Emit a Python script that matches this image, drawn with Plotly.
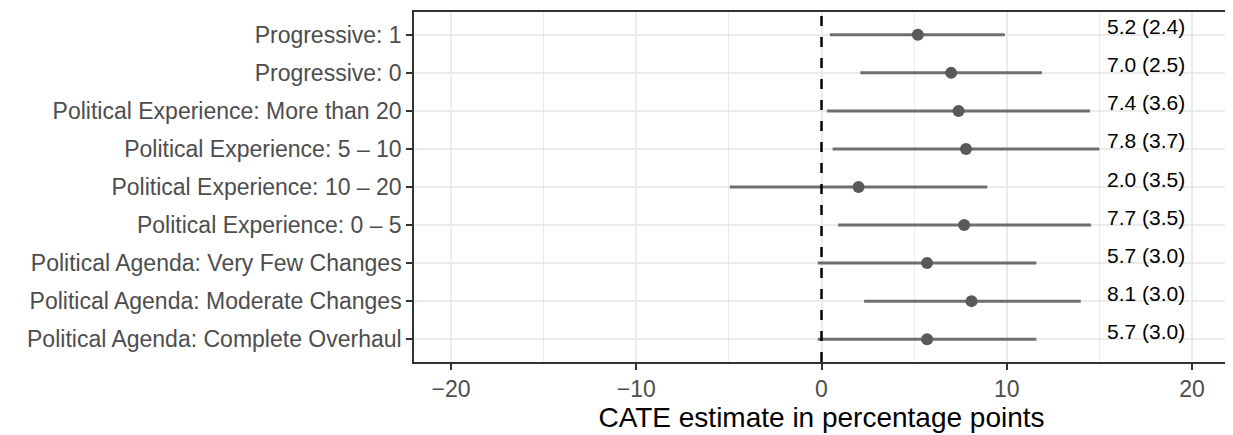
import plotly.graph_objects as go

# CATE estimates by attribute level (top to bottom as in the figure)
levels = [
    "Progressive: 1",
    "Progressive: 0",
    "Political Experience: More than 20",
    "Political Experience: 5 \u2013 10",
    "Political Experience: 10 \u2013 20",
    "Political Experience: 0 \u2013 5",
    "Political Agenda: Very Few Changes",
    "Political Agenda: Moderate Changes",
    "Political Agenda: Complete Overhaul",
]
estimate = [5.2, 7.0, 7.4, 7.8, 2.0, 7.7, 5.7, 8.1, 5.7]
std_err = [2.4, 2.5, 3.6, 3.7, 3.5, 3.5, 3.0, 3.0, 3.0]
ci_low = [0.45, 2.1, 0.3, 0.6, -4.95, 0.9, -0.2, 2.3, -0.2]
ci_high = [9.9, 11.9, 14.5, 15.0, 8.95, 14.55, 11.6, 14.0, 11.6]
labels = [f"{e:.1f} ({s:.1f})" for e, s in zip(estimate, std_err)]

FONT = "Liberation Sans, Arial, sans-serif"

fig = go.Figure()
fig.add_trace(go.Scatter(
    x=estimate, y=levels, mode="markers",
    marker=dict(size=12, color="#595959"),
    error_x=dict(type="data", symmetric=False,
                 array=[h - e for h, e in zip(ci_high, estimate)],
                 arrayminus=[e - l for e, l in zip(estimate, ci_low)],
                 width=0, thickness=3, color="#6e6e6e"),
    showlegend=False, hoverinfo="skip",
))

for lab, lvl in zip(labels, levels):
    fig.add_annotation(x=17.5, y=lvl, text=lab, showarrow=False,
                       xanchor="center", yanchor="middle", yshift=8,
                       font=dict(family=FONT, size=21, color="black"))

# dashed reference line at zero (above, so the x=0 gridline doesn't cover it)
fig.add_shape(type="line", x0=0, x1=0, y0=0, y1=1, xref="x", yref="paper",
              line=dict(color="black", width=2.5, dash="10px,11px"), layer="above")

axis_common = dict(showline=True, mirror=True, linecolor="#333333", linewidth=1.5,
                   ticks="outside", ticklen=6, tickwidth=1.5, tickcolor="#333333",
                   showgrid=True, gridcolor="#ebebeb", gridwidth=2, zeroline=False,
                   tickfont=dict(family=FONT, size=23, color="#4d4d4d"))

fig.update_xaxes(range=[-22, 22], tickvals=[-20, -10, 0, 10, 20],
                 ticktext=["\u221220", "\u221210", "0", "10", "20"],
                 minor=dict(showgrid=True, gridcolor="#ebebeb", gridwidth=1, dtick=5, tick0=-15),
                 title=dict(text="CATE estimate in percentage points", standoff=5,
                            font=dict(family=FONT, size=28, color="black")),
                 **axis_common)
fig.update_yaxes(type="category", categoryorder="array", categoryarray=levels[::-1],
                 range=[-0.6, 8.6], **axis_common)

# the page body has an 8px margin, so the figure is sized to the remaining area
fig.update_layout(width=1225, height=427, plot_bgcolor="white", paper_bgcolor="white",
                  margin=dict(l=406, r=4, t=4, b=73, autoexpand=False),
                  font=dict(family=FONT))

fig.write_html("out.html")
